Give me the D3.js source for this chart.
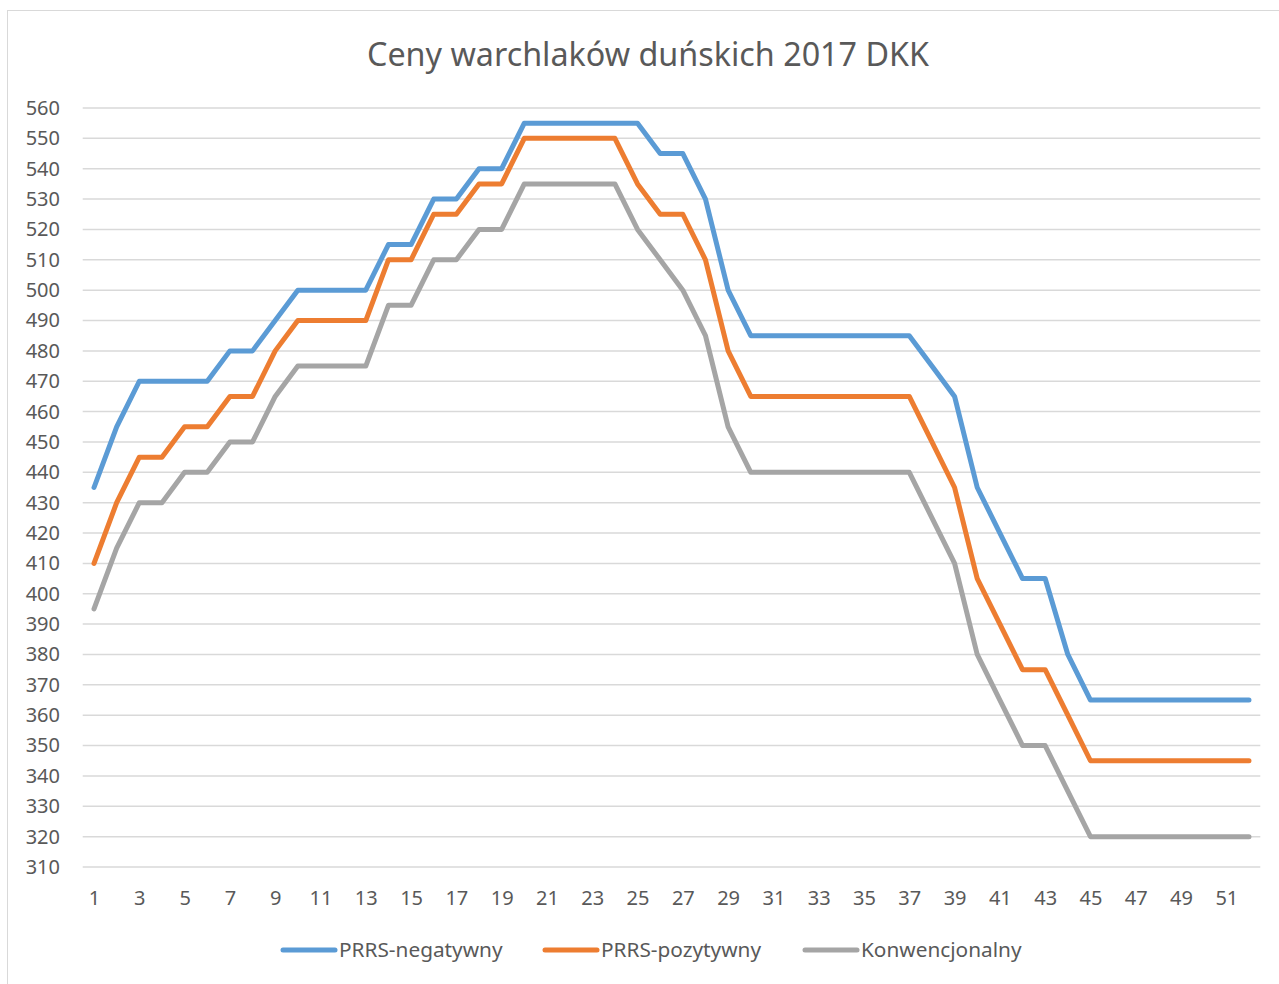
<!DOCTYPE html>
<html lang="pl">
<head>
<meta charset="utf-8">
<title>Ceny warchlaków duńskich 2017 DKK</title>
<style>
  body { margin:0; background:#fff; font-family:'Noto Sans', sans-serif; }
  svg text { fill:#595959; }
</style>
</head>
<body>
<div id="chart"></div>
<script src="https://cdnjs.cloudflare.com/ajax/libs/d3/7.8.5/d3.min.js"></script>
<script>
// weeks 1..52
var weeks = d3.range(1, 53);
var yTicks = [310,320,330,340,350,360,370,380,390,400,410,420,430,440,450,460,470,480,490,500,510,520,530,540,550,560];

var prrsNeg = [435,455,470,470,470,470,480,480,490,500,500,500,500,515,515,530,530,540,540,555,
               555,555,555,555,555,545,545,530,500,485,485,485,485,485,485,485,485,475,465,435,
               420,405,405,380,365,365,365,365,365,365,365,365];
var prrsPoz = [410,430,445,445,455,455,465,465,480,490,490,490,490,510,510,525,525,535,535,550,
               550,550,550,550,535,525,525,510,480,465,465,465,465,465,465,465,465,450,435,405,
               390,375,375,360,345,345,345,345,345,345,345,345];
var konw    = [395,415,430,430,440,440,450,450,465,475,475,475,475,495,495,510,510,520,520,535,
               535,535,535,535,520,510,500,485,455,440,440,440,440,440,440,440,440,425,410,380,
               365,350,350,335,320,320,320,320,320,320,320,320];

var seriesNames = ["PRRS-negatywny", "PRRS-pozytywny", "Konwencjonalny"];
var seriesColors = ["#5B9BD5", "#ED7D31", "#A5A5A5"];
var seriesData = [prrsNeg, prrsPoz, konw];

var W = 1279, H = 984;
var svg = d3.select("#chart").append("svg")
    .attr("width", W).attr("height", H);

// chart frame
svg.append("rect")
    .attr("x", 7.5).attr("y", 10.5)
    .attr("width", W + 10).attr("height", H + 10)
    .attr("fill", "none").attr("stroke", "#d9d9d9").attr("stroke-width", 1);

var x = d3.scalePoint().domain(weeks).range([82.7, 1260.3]).padding(0.5);
var y = d3.scaleLinear().domain([310, 560]).range([867, 108]);

// gridlines
svg.append("g")
  .selectAll("line").data(yTicks).enter().append("line")
    .attr("x1", 82.7).attr("x2", 1260.3)
    .attr("y1", function(d){ return y(d); })
    .attr("y2", function(d){ return y(d); })
    .attr("stroke", "#d9d9d9").attr("stroke-width", 1.5);

// y axis labels
var yAxis = svg.append("g")
    .attr("transform", "translate(82,0)")
    .call(d3.axisLeft(y).tickValues(yTicks).tickSize(0).tickPadding(22));
yAxis.select(".domain").remove();
yAxis.selectAll("text").style("font-size", "20px").style("font-family", "'Noto Sans', sans-serif").attr("fill", "#595959");

// x axis labels
var xAxis = svg.append("g")
    .attr("transform", "translate(0,867)")
    .call(d3.axisBottom(x).tickValues(weeks.filter(function(d){ return d % 2 === 1; })).tickSize(0).tickPadding(24));
xAxis.select(".domain").remove();
xAxis.selectAll("text").style("font-size", "20px").style("font-family", "'Noto Sans', sans-serif").attr("fill", "#595959");

// lines
var line = d3.line()
    .x(function(d, i){ return x(weeks[i]); })
    .y(function(d){ return y(d); });

seriesData.forEach(function(s, k){
  svg.append("path")
    .datum(s)
    .attr("d", line)
    .attr("fill", "none")
    .attr("stroke", seriesColors[k])
    .attr("stroke-width", 5)
    .attr("stroke-linejoin", "round")
    .attr("stroke-linecap", "round");
});

// title
svg.append("text")
    .attr("x", 648).attr("y", 66)
    .attr("text-anchor", "middle")
    .style("font-size", "32.3px")
    .text("Ceny warchlaków duńskich 2017 DKK");

// legend
var legendX = [281, 543, 803];
seriesNames.forEach(function(n, k){
  var g = svg.append("g").attr("transform", "translate(" + legendX[k] + ",950)");
  g.append("line")
    .attr("x1", 2).attr("x2", 54)
    .attr("stroke", seriesColors[k]).attr("stroke-width", 5)
    .attr("stroke-linecap", "round");
  g.append("text")
    .attr("x", 58).attr("y", 7)
    .style("font-size", "20.8px")
    .text(n);
});
</script>
</body>
</html>
